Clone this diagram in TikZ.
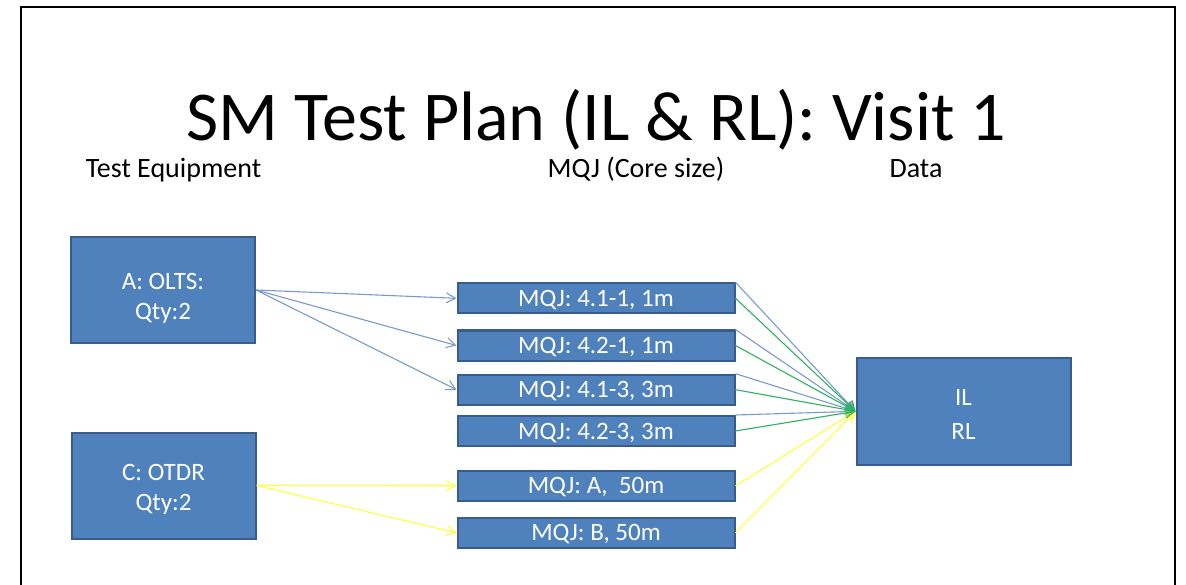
\documentclass[tikz,border=0pt]{standalone}
\usepackage{fontspec}
\setmainfont{Carlito}
\usetikzlibrary{arrows.meta}
\definecolor{boxfill}{RGB}{79,129,189}
\definecolor{boxline}{RGB}{56,93,138}
\definecolor{linkblue}{RGB}{122,154,206}
\definecolor{linkgreen}{RGB}{46,178,96}
\definecolor{linkyellow}{RGB}{255,255,60}
% box text, centred lines moved down by #1 without changing the box size
\newcommand\lowered[2]{\raisebox{-#1}[\height][\depth]{\begin{tabular}{@{}c@{}}#2\end{tabular}}}
\tikzset{
  body/.style={font=\fontsize{25}{30}\selectfont},
  block/.style={draw=boxline, fill=boxfill, line width=2pt, text=white,
    body, align=center, inner sep=0pt},
  eqbox/.style={block, minimum width=184pt, minimum height=106pt},
  mqj/.style={block, minimum width=277pt, minimum height=28pt},
  databox/.style={block, minimum width=214pt, minimum height=107pt,
    font=\fontsize{25}{34}\selectfont},
  link/.style={line width=1.1pt, -{Straight Barb[length=9pt,width=10pt]}},
  heading/.style={font=\fontsize{28}{34}\selectfont, anchor=base},
}
\begin{document}
\begin{tikzpicture}[x=1pt, y=-1pt]
  \useasboundingbox (0,0) rectangle (1186,585);
  \fill[white] (0,0) rectangle (1186,585);
  % slide frame
  \draw[line width=2.5pt] (21,585) -- (21,7) -- (1175,7) -- (1175,585);

  % title and column headings
  \node[anchor=base, text depth=0pt, font=\fontsize{70}{80}\selectfont] (title) at (596.5,141) {SM Test Plan (IL \& RL): Visit 1};
  \node[heading] (hEquip) at (173.5,178) {Test Equipment};
  \node[heading] (hMqj) at (636,178) {MQJ (Core size)};
  \node[heading] (hData) at (916,178) {Data};

  % test equipment
  \node[eqbox] (olts) at (163,290) {\lowered{9pt}{A: OLTS:\\Qty:2}};
  \node[eqbox] (otdr) at (163.5,485.5) {\lowered{4pt}{C: OTDR\\Qty:2}};

  % jumpers
  \node[mqj] (m1) at (596,298.3) {\lowered{2pt}{MQJ: 4.1-1, 1m}};
  \node[mqj] (m2) at (596,345.5) {\lowered{2pt}{MQJ: 4.2-1, 1m}};
  \node[mqj] (m3) at (596,389.7) {\lowered{2pt}{MQJ: 4.1-3, 3m}};
  \node[mqj] (m4) at (596,431) {\lowered{2pt}{MQJ: 4.2-3, 3m}};
  \node[mqj] (m5) at (596,485.8) {\lowered{2pt}{MQJ: A,\ \ 50m}};
  \node[mqj] (m6) at (596,532.8) {\lowered{2pt}{MQJ: B, 50m}};

  % data
  \node[databox] (data) at (963.5,411.3) {\lowered{4pt}{IL\\RL}};

  % equipment to jumpers
  \foreach \m in {m1,m2,m3}
    \draw[link, linkblue] (olts.east) -- (\m.west);
  \foreach \m in {m5,m6}
    \draw[link, linkyellow] (otdr.east) -- (\m.west);

  % jumpers to data
  \foreach \m in {m1,m2,m3,m4}
    \draw[link, linkblue] (\m.north east) -- (data.west);
  \foreach \m in {m5,m6}
    \draw[link, linkyellow] (\m.east) -- (data.west);
  \foreach \m in {m1,m2,m3,m4}
    \draw[link, linkgreen] (\m.east) -- (data.west);
\end{tikzpicture}
\end{document}
